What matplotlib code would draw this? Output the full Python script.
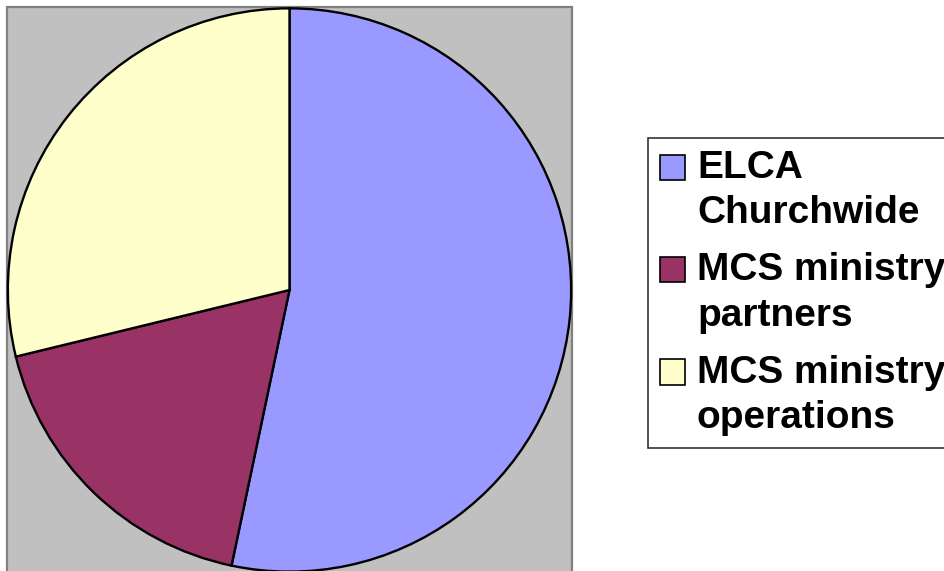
import matplotlib
matplotlib.use("Agg")
import matplotlib.pyplot as plt
from matplotlib.patches import Rectangle
from matplotlib.legend_handler import HandlerPatch

# data
labels = ["ELCA\nChurchwide", "MCS ministry\npartners", "MCS ministry\noperations"]
shares = [53.3, 17.9, 28.8]
colors = ["#9999FF", "#993366", "#FFFFCC"]

plt.rcParams['font.family'] = ['Liberation Sans', 'DejaVu Sans']

W, H = 945, 571
fig = plt.figure(figsize=(W / 100, H / 100), dpi=100)

# gray plot area behind the pie (runs off the bottom)
fig.patches.append(Rectangle((7 / W, -20 / H), 565 / W, (571 - 7 + 20) / H,
                             transform=fig.transFigure, facecolor="#C0C0C0",
                             edgecolor="#808080", linewidth=1.6, zorder=-5))

ax = fig.add_axes([7 / W, -1.5 / H, 565 / W, 565 / H])
wedges, _ = ax.pie(shares, colors=colors, startangle=90, counterclock=False,
                   radius=1.0, wedgeprops=dict(edgecolor="black", linewidth=1.7))
ax.set_xlim(-1.003, 1.003)
ax.set_ylim(-1.003, 1.003)
ax.set_aspect('equal')
ax.axis('off')


# square key sitting next to the first line of the label
def top_square(legend, orig_handle, xdescent, ydescent, width, height, fontsize):
    return Rectangle((-xdescent, -ydescent + 17), width, height)


leg = fig.legend(wedges, labels, loc="upper left",
                 bbox_to_anchor=(648 / W, 1 - 138 / H),
                 bbox_transform=fig.transFigure,
                 prop=dict(size=28, weight="bold"),
                 frameon=True, fancybox=False, shadow=False,
                 borderaxespad=0, borderpad=0.31,
                 handlelength=0.64, handleheight=0.64,
                 handletextpad=0.31, labelspacing=0.54,
                 handler_map={w: HandlerPatch(patch_func=top_square) for w in wedges})
leg.get_frame().set_edgecolor("black")
leg.get_frame().set_linewidth(1.2)
for t in leg.get_texts():
    t.set_linespacing(1.33)
for h in leg.legend_handles:
    h.set_linewidth(1.2)

fig.savefig("out.png", dpi=100)
